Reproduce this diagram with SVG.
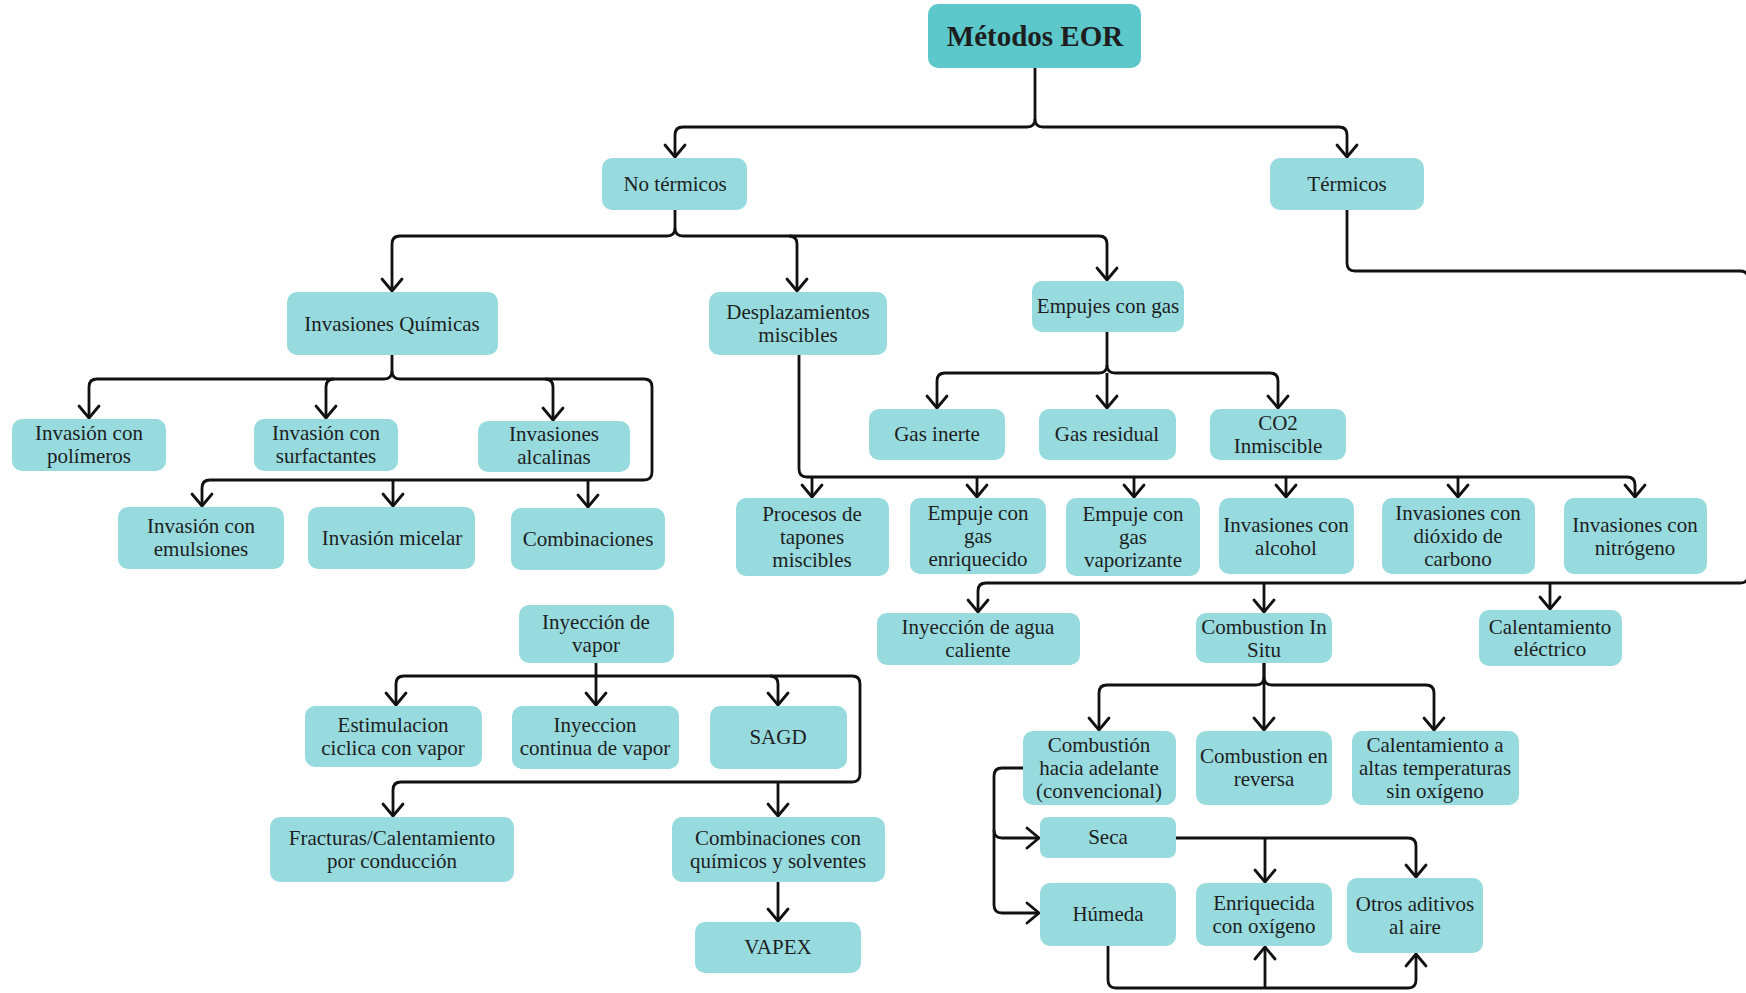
<svg xmlns="http://www.w3.org/2000/svg" width="1746" height="993" viewBox="0 0 1746 993">
<defs>
<style>
.b{fill:#97dbde}
.m{fill:#5cc8cb}
text{font-family:"Liberation Serif","Times New Roman",serif;font-size:21px;fill:#1e1e1e;text-anchor:middle}
.t{font-size:29px;font-weight:bold}
.c path{fill:none;stroke:#111;stroke-width:2.8;stroke-linejoin:round}
.c path.a{marker-end:url(#ar)}
</style>
<marker id="ar" markerUnits="userSpaceOnUse" markerWidth="30" markerHeight="30" viewBox="-15 -15 30 30" refX="0" refY="0" orient="auto">
<path d="M-12,-10 L0,0 L-12,10" fill="none" stroke="#111" stroke-width="2.8" stroke-linecap="round" stroke-linejoin="miter"/>
</marker>
</defs>
<rect width="1746" height="993" fill="#fff"/>
<g class="c" id="connectors">
<path class="a" d="M1035,68 V119 Q1035,127 1027,127 H683 Q675,127 675,135 V157"/>
<path class="a" d="M1035,119 Q1035,127 1043,127 H1339 Q1347,127 1347,135 V157"/>
<path class="a" d="M1347,210 V263 Q1347,271 1355,271 H1740 Q1748,271 1748,279 V575 Q1748,583 1740,583 H986 Q978,583 978,591 V612"/>
<path class="a" d="M1264,583 V612"/>
<path class="a" d="M1550,583 V609"/>
<path class="a" d="M675,210 V228 Q675,236 667,236 H400 Q392,236 392,244 V291"/>
<path class="a" d="M675,228 Q675,236 683,236 H1099 Q1107,236 1107,244 V280"/>
<path class="a" d="M789,236 Q797,236 797,244 V291"/>
<path class="a" d="M392,355 V371 Q392,379 384,379 H97 Q89,379 89,387 V418"/>
<path class="a" d="M392,371 Q392,379 400,379 H644 Q652,379 652,387 V472 Q652,480 644,480 H210 Q202,480 202,488 V506"/>
<path class="a" d="M334,379 Q326,379 326,387 V418"/>
<path class="a" d="M545,379 Q553,379 553,387 V420"/>
<path class="a" d="M393,480 V506"/>
<path class="a" d="M588,480 V507"/>
<path class="a" d="M799,355 V469 Q799,477 807,477 H1627 Q1635,477 1635,485 V497"/>
<path class="a" d="M812,477 V497"/>
<path class="a" d="M977,477 V497"/>
<path class="a" d="M1134,477 V497"/>
<path class="a" d="M1286,477 V497"/>
<path class="a" d="M1458,477 V497"/>
<path class="a" d="M1107,332 V365 Q1107,373 1099,373 H945 Q937,373 937,381 V408"/>
<path class="a" d="M1107,365 Q1107,373 1115,373 H1270 Q1278,373 1278,381 V408"/>
<path class="a" d="M1107,373 V408"/>
<path class="a" d="M596,663 V705"/>
<path class="a" d="M596,676 H404 Q396,676 396,684 V705"/>
<path class="a" d="M596,676 H852 Q860,676 860,684 V774 Q860,782 852,782 H401 Q393,782 393,790 V816"/>
<path class="a" d="M770,676 Q778,676 778,684 V705"/>
<path class="a" d="M778,782 V816"/>
<path class="a" d="M778,882 V921"/>
<path class="a" d="M1264,663 V677 Q1264,685 1256,685 H1107 Q1099,685 1099,693 V730"/>
<path class="a" d="M1264,677 Q1264,685 1272,685 H1426 Q1434,685 1434,693 V730"/>
<path class="a" d="M1264,663 V730"/>
<path class="a" d="M1023,768 H1002 Q994,768 994,776 V905 Q994,913 1002,913 H1039"/>
<path class="a" d="M994,830 Q994,838 1002,838 H1039"/>
<path class="a" d="M1176,838 H1408 Q1416,838 1416,846 V877"/>
<path class="a" d="M1265,838 V882"/>
<path class="a" d="M1108,946 V980 Q1108,988 1116,988 H1408 Q1416,988 1416,980 V954"/>
<path class="a" d="M1265,988 V947"/>
</g>
<g id="n-metodos"><rect class="m" x="928" y="4" width="213" height="64" rx="10"/><text class="t" x="1035" y="46">Métodos EOR</text></g>
<g id="n-no-termicos"><rect class="b" x="602" y="158" width="145" height="52" rx="10"/><text x="675" y="191">No térmicos</text></g>
<g id="n-termicos"><rect class="b" x="1270" y="158" width="154" height="52" rx="10"/><text x="1347" y="191">Térmicos</text></g>
<g id="n-inv-quimicas"><rect class="b" x="287" y="292" width="211" height="63" rx="10"/><text x="392" y="331">Invasiones Químicas</text></g>
<g id="n-desplazamientos"><rect class="b" x="709" y="292" width="178" height="63" rx="10"/><text x="798" y="319">Desplazamientos</text><text x="798" y="342">miscibles</text></g>
<g id="n-empujes-gas"><rect class="b" x="1032" y="281" width="152" height="51" rx="10"/><text x="1108" y="313">Empujes con gas</text></g>
<g id="n-gas-inerte"><rect class="b" x="869" y="409" width="136" height="51" rx="10"/><text x="937" y="441">Gas inerte</text></g>
<g id="n-gas-residual"><rect class="b" x="1039" y="409" width="137" height="51" rx="10"/><text x="1107" y="441">Gas residual</text></g>
<g id="n-co2"><rect class="b" x="1210" y="409" width="136" height="51" rx="10"/><text x="1278" y="430">CO2</text><text x="1278" y="453">Inmiscible</text></g>
<g id="n-polimeros"><rect class="b" x="12" y="419" width="154" height="52" rx="10"/><text x="89" y="440">Invasión con</text><text x="89" y="463">polímeros</text></g>
<g id="n-surfactantes"><rect class="b" x="254" y="419" width="144" height="52" rx="10"/><text x="326" y="440">Invasión con</text><text x="326" y="463">surfactantes</text></g>
<g id="n-alcalinas"><rect class="b" x="478" y="421" width="152" height="51" rx="10"/><text x="554" y="441">Invasiones</text><text x="554" y="464">alcalinas</text></g>
<g id="n-emulsiones"><rect class="b" x="118" y="507" width="166" height="62" rx="10"/><text x="201" y="533">Invasión con</text><text x="201" y="556">emulsiones</text></g>
<g id="n-micelar"><rect class="b" x="308" y="507" width="167" height="62" rx="10"/><text x="392" y="545">Invasión micelar</text></g>
<g id="n-combinaciones"><rect class="b" x="511" y="508" width="154" height="62" rx="10"/><text x="588" y="546">Combinaciones</text></g>
<g id="n-procesos"><rect class="b" x="736" y="498" width="153" height="78" rx="10"/><text x="812" y="521">Procesos de</text><text x="812" y="544">tapones</text><text x="812" y="567">miscibles</text></g>
<g id="n-enriquecido"><rect class="b" x="910" y="498" width="136" height="76" rx="10"/><text x="978" y="520">Empuje con</text><text x="978" y="543">gas</text><text x="978" y="566">enriquecido</text></g>
<g id="n-vaporizante"><rect class="b" x="1066" y="498" width="134" height="78" rx="10"/><text x="1133" y="521">Empuje con</text><text x="1133" y="544">gas</text><text x="1133" y="567">vaporizante</text></g>
<g id="n-alcohol"><rect class="b" x="1219" y="498" width="135" height="76" rx="10"/><text x="1286" y="532">Invasiones con</text><text x="1286" y="555">alcohol</text></g>
<g id="n-dioxido"><rect class="b" x="1382" y="498" width="153" height="76" rx="10"/><text x="1458" y="520">Invasiones con</text><text x="1458" y="543">dióxido de</text><text x="1458" y="566">carbono</text></g>
<g id="n-nitrogeno"><rect class="b" x="1564" y="498" width="143" height="76" rx="10"/><text x="1635" y="532">Invasiones con</text><text x="1635" y="555">nitrógeno</text></g>
<g id="n-iny-vapor"><rect class="b" x="519" y="605" width="155" height="58" rx="10"/><text x="596" y="629">Inyección de</text><text x="596" y="652">vapor</text></g>
<g id="n-estimulacion"><rect class="b" x="305" y="706" width="177" height="61" rx="10"/><text x="393" y="732">Estimulacion</text><text x="393" y="755">ciclica con vapor</text></g>
<g id="n-continua"><rect class="b" x="512" y="706" width="167" height="63" rx="10"/><text x="595" y="732">Inyeccion</text><text x="595" y="755">continua de vapor</text></g>
<g id="n-sagd"><rect class="b" x="710" y="706" width="137" height="63" rx="10"/><text x="778" y="744">SAGD</text></g>
<g id="n-fracturas"><rect class="b" x="270" y="817" width="244" height="65" rx="10"/><text x="392" y="845">Fracturas/Calentamiento</text><text x="392" y="868">por conducción</text></g>
<g id="n-comb-quimicos"><rect class="b" x="672" y="817" width="213" height="65" rx="10"/><text x="778" y="845">Combinaciones con</text><text x="778" y="868">químicos y solventes</text></g>
<g id="n-vapex"><rect class="b" x="695" y="922" width="166" height="51" rx="10"/><text x="778" y="954">VAPEX</text></g>
<g id="n-agua-caliente"><rect class="b" x="877" y="613" width="203" height="52" rx="10"/><text x="978" y="634">Inyección de agua</text><text x="978" y="657">caliente</text></g>
<g id="n-combustion-situ"><rect class="b" x="1196" y="613" width="136" height="50" rx="10"/><text x="1264" y="634">Combustion In</text><text x="1264" y="657">Situ</text></g>
<g id="n-cal-electrico"><rect class="b" x="1479" y="610" width="143" height="56" rx="10"/><text x="1550" y="634">Calentamiento</text><text x="1550" y="656">eléctrico</text></g>
<g id="n-adelante"><rect class="b" x="1023" y="731" width="153" height="74" rx="10"/><text x="1099" y="752">Combustión</text><text x="1099" y="775">hacia adelante</text><text x="1099" y="798">(convencional)</text></g>
<g id="n-reversa"><rect class="b" x="1196" y="731" width="136" height="74" rx="10"/><text x="1264" y="763">Combustion en</text><text x="1264" y="786">reversa</text></g>
<g id="n-altas-temp"><rect class="b" x="1352" y="731" width="167" height="74" rx="10"/><text x="1435" y="752">Calentamiento a</text><text x="1435" y="775">altas temperaturas</text><text x="1435" y="798">sin oxígeno</text></g>
<g id="n-seca"><rect class="b" x="1040" y="817" width="136" height="41" rx="8"/><text x="1108" y="844">Seca</text></g>
<g id="n-humeda"><rect class="b" x="1040" y="883" width="136" height="63" rx="10"/><text x="1108" y="921">Húmeda</text></g>
<g id="n-enriquecida"><rect class="b" x="1196" y="883" width="136" height="63" rx="10"/><text x="1264" y="910">Enriquecida</text><text x="1264" y="933">con oxígeno</text></g>
<g id="n-otros"><rect class="b" x="1347" y="878" width="136" height="75" rx="10"/><text x="1415" y="911">Otros aditivos</text><text x="1415" y="934">al aire</text></g>
</svg>
